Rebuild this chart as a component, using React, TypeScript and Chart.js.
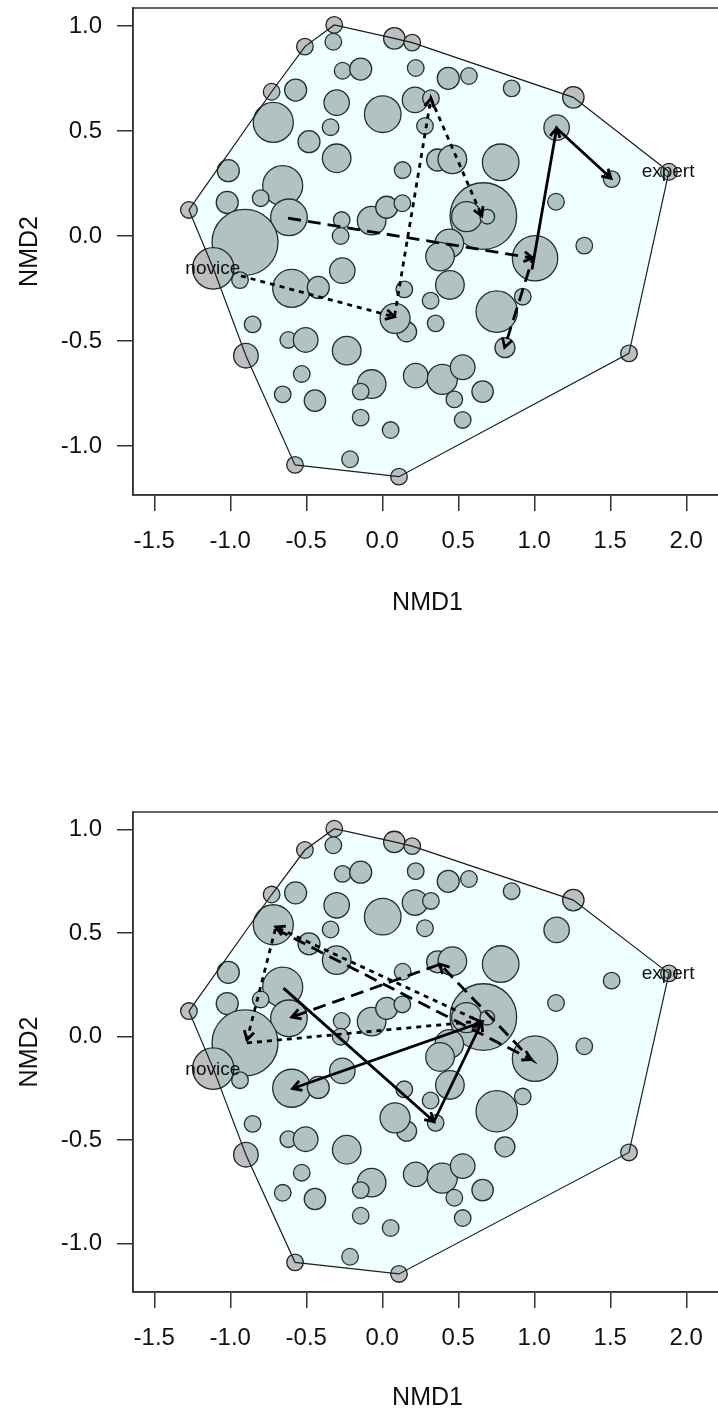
import React, { useEffect, useRef } from 'react';
import { Chart, registerables } from 'chart.js';
Chart.register(...registerables);

const FONT = "'Liberation Sans', Arial, Helvetica, sans-serif";

// axes
const xTicks = [-1.5, -1.0, -0.5, 0.0, 0.5, 1.0, 1.5, 2.0];
const yTicks = [-1.0, -0.5, 0.0, 0.5, 1.0];
const xMin = -1.64;
const xMax = 2.235;
const yMin = -1.2333;
const yMax = 1.0857;
const xTitle = 'NMD1';
const yTitle = 'NMD2';

// NMDS sites (same configuration in both panels); r = symbol radius
const bubbleX = [
  -0.316, -0.322, -0.509, 0.079, 0.197, -0.261, -0.142, 0.22, -0.728, -0.57,
  -0.3, 0.003, 0.215, -0.34, -0.717, -0.482, -0.3, -1.013, 0.134, -0.655,
  -1.02, -0.8, -0.614, -1.272, -0.903, -0.267, -0.274, -0.07, 0.029, 0.132,
  0.434, 0.57, 0.851, 1.257, 0.32, 0.281, 1.147, 0.364, 0.461, 0.779,
  1.509, 1.886, 0.665, 0.555, 0.691, 1.143, 1.329, 0.441, 1.005, 0.38,
  0.445, 0.318, 0.351, 0.16, 0.753, 0.924, 0.807, 1.623, 0.22, 0.395,
  0.529, 0.66, 0.474, 0.529, 0.11, -1.112, -0.936, -0.596, -0.421, -0.263,
  0.145, 0.084, -0.853, -0.618, -0.504, -0.234, -0.897, -0.53, -0.655, -0.443,
  -0.07, -0.142, -0.142, 0.055, -0.212, -0.574,
];
const bubbleY = [
  1.005, 0.925, 0.902, 0.941, 0.921, 0.787, 0.795, 0.8, 0.687, 0.695,
  0.635, 0.58, 0.648, 0.518, 0.541, 0.449, 0.37, 0.311, 0.314, 0.24,
  0.16, 0.18, 0.089, 0.124, -0.03, 0.076, 0.0, 0.073, 0.137, 0.156,
  0.751, 0.762, 0.703, 0.66, 0.656, 0.524, 0.516, 0.362, 0.365, 0.351,
  0.271, 0.306, 0.095, 0.092, 0.092, 0.163, -0.046, -0.035, -0.106, -0.098,
  -0.233, -0.308, -0.416, -0.456, -0.36, -0.289, -0.532, -0.559, -0.665, -0.683,
  -0.625, -0.741, -0.778, -0.876, -1.146, -0.154, -0.21, -0.249, -0.245, -0.165,
  -0.254, -0.392, -0.421, -0.495, -0.495, -0.546, -0.57, -0.657, -0.754, -0.784,
  -0.705, -0.741, -0.865, -0.924, -1.063, -1.09,
];
const bubbleR = [
  8.3, 8.3, 8.3, 10.7, 8.3, 8.3, 11, 8.3, 8.3, 11,
  12.7, 18.3, 12.7, 8.3, 20, 11, 14.3, 11, 8.3, 20,
  11, 8.3, 18.3, 8.3, 33, 8.3, 8.3, 14.3, 11, 8.3,
  11, 8.3, 8.3, 10.7, 8.3, 8.3, 12.7, 11, 14.3, 18.3,
  8.3, 8.3, 33.3, 15, 7.3, 8.3, 8.3, 14.3, 22.7, 14.3,
  14.3, 8.3, 8.3, 10, 20.7, 8.3, 10, 8.3, 12.3, 15,
  12.3, 10.7, 8.3, 8.3, 8.3, 20.7, 8.3, 19, 11, 12.7,
  8.3, 15, 8.3, 8.3, 12.3, 14.3, 12.3, 8.3, 8.3, 10.7,
  14.3, 8.3, 8.3, 8.3, 8.3, 8.3,
];

// convex hull, upper and lower chains (left to right)
const hullUpperX = [-1.272, -0.728, -0.509, -0.316, 0.079, 0.197, 1.257, 1.886];
const hullUpperY = [0.124, 0.687, 0.902, 1.005, 0.941, 0.921, 0.66, 0.306];
const hullLowerX = [-1.272, -1.112, -0.897, -0.574, 0.11, 1.623, 1.886];
const hullLowerY = [0.124, -0.154, -0.57, -1.09, -1.146, -0.559, 0.306];

// labels
const labelText = ['novice', 'expert'];
const labelX = [-1.115, 1.88];
const labelY = [-0.158, 0.306];

// top panel trajectories
const topDottedX = [-0.93, 0.08, 0.32, 0.655];
const topDottedY = [-0.19, -0.385, 0.655, 0.095];
const topDashedX = [-0.62, 0.99, 0.805];
const topDashedY = [0.085, -0.105, -0.53];
const topSolidX = [0.985, 1.147, 1.505];
const topSolidY = [-0.16, 0.513, 0.275];

// bottom panel trajectories
const botSolidX = [-0.65, 0.34, 0.655, -0.59];
const botSolidY = [0.235, -0.41, 0.07, -0.25];
const botDottedX = [-0.89, 0.64, -0.7, -0.89];
const botDottedY = [-0.03, 0.075, 0.53, -0.015];
const botDashedX = [-0.7, 0.98, 0.38, -0.595];
const botDashedY = [0.52, -0.11, 0.35, 0.095];

const DOT = [5, 5];
const DASH = [13, 7];
const SOLID: number[] = [];

type Path = { xs: number[]; ys: number[]; dash: number[] };

const topPaths: Path[] = [
  { xs: topDottedX, ys: topDottedY, dash: DOT },
  { xs: topDashedX, ys: topDashedY, dash: DASH },
  { xs: topSolidX, ys: topSolidY, dash: SOLID },
];
const botPaths: Path[] = [
  { xs: botSolidX, ys: botSolidY, dash: SOLID },
  { xs: botDottedX, ys: botDottedY, dash: DOT },
  { xs: botDashedX, ys: botDashedY, dash: DASH },
];

const pts = (xs: number[], ys: number[]) => xs.map((x, i) => ({ x, y: ys[i] }));

function Panel(props: { top: number; axisH: number; titlePad: number; paths: Path[] }) {
  const ref = useRef<HTMLCanvasElement>(null);
  useEffect(() => {
    const canvas = ref.current;
    if (!canvas) return;
    const paths = props.paths;

    const boxPlugin = {
      id: 'box',
      afterDatasetsDraw(chart: any) {
        const { ctx, chartArea: a } = chart;
        ctx.save();
        ctx.strokeStyle = '#333';
        ctx.lineWidth = 1.5;
        ctx.setLineDash([]);
        ctx.strokeRect(a.left, a.top, a.right - a.left, a.bottom - a.top);
        ctx.restore();
      },
    };
    const headPlugin = {
      id: 'heads',
      afterDatasetsDraw(chart: any) {
        const ctx = chart.ctx;
        const sx = chart.scales.x;
        const sy = chart.scales.y;
        ctx.save();
        ctx.strokeStyle = '#000';
        ctx.lineWidth = 2.8;
        ctx.setLineDash([]);
        ctx.lineJoin = 'miter';
        for (const p of paths) {
          for (let i = 1; i < p.xs.length; i++) {
            const x0 = sx.getPixelForValue(p.xs[i - 1]);
            const y0 = sy.getPixelForValue(p.ys[i - 1]);
            const x1 = sx.getPixelForValue(p.xs[i]);
            const y1 = sy.getPixelForValue(p.ys[i]);
            const ang = Math.atan2(y1 - y0, x1 - x0);
            const L = 10;
            const phi = Math.PI / 6;
            ctx.beginPath();
            ctx.moveTo(x1 - L * Math.cos(ang - phi), y1 - L * Math.sin(ang - phi));
            ctx.lineTo(x1, y1);
            ctx.lineTo(x1 - L * Math.cos(ang + phi), y1 - L * Math.sin(ang + phi));
            ctx.stroke();
          }
        }
        ctx.restore();
      },
    };
    const labelPlugin = {
      id: 'labels',
      afterDatasetsDraw(chart: any) {
        const ctx = chart.ctx;
        ctx.save();
        ctx.fillStyle = '#111';
        ctx.font = `19px ${FONT}`;
        ctx.textAlign = 'center';
        ctx.textBaseline = 'middle';
        labelText.forEach((t, i) => {
          ctx.fillText(t, chart.scales.x.getPixelForValue(labelX[i]), chart.scales.y.getPixelForValue(labelY[i]));
        });
        ctx.restore();
      },
    };

    const datasets: any[] = [
      {
        type: 'bubble',
        data: bubbleX.map((x, i) => ({ x, y: bubbleY[i], r: bubbleR[i] })),
        backgroundColor: '#bebebe',
        borderColor: '#222',
        borderWidth: 1.3,
        order: 3,
      },
      {
        type: 'line',
        data: pts(hullUpperX, hullUpperY),
        borderColor: '#1a1a1a',
        borderWidth: 1.2,
        pointRadius: 0,
        tension: 0,
        fill: '+1',
        backgroundColor: 'rgba(0,255,255,0.06)',
        order: 2,
      },
      {
        type: 'line',
        data: pts(hullLowerX, hullLowerY),
        borderColor: '#1a1a1a',
        borderWidth: 1.2,
        pointRadius: 0,
        tension: 0,
        fill: false,
        order: 2,
      },
      ...paths.map((p) => ({
        type: 'line',
        data: pts(p.xs, p.ys),
        borderColor: '#000',
        borderWidth: 2.8,
        borderDash: p.dash,
        borderCapStyle: 'butt',
        pointRadius: 0,
        tension: 0,
        fill: false,
        order: 1,
      })),
    ];

    const tickFont = { family: FONT, size: 24 };
    const titleFont = { family: FONT, size: 25 };
    const chart = new Chart(canvas, {
      type: 'bubble',
      data: { datasets },
      options: {
        responsive: false,
        animation: false,
        events: [],
        devicePixelRatio: 1,
        layout: { autoPadding: false, padding: { top: 8, left: 0, right: 0, bottom: 0 } },
        plugins: { legend: { display: false }, tooltip: { enabled: false } },
        scales: {
          x: {
            type: 'linear',
            min: xMin,
            max: xMax,
            afterBuildTicks: (s: any) => {
              s.ticks = xTicks.map((v) => ({ value: v }));
            },
            afterFit: (s: any) => {
              s.height = props.axisH;
              s.paddingLeft = 0;
              s.paddingRight = 0;
              s.paddingTop = 0;
              s.paddingBottom = 0;
            },
            ticks: {
              font: tickFont,
              color: '#111',
              padding: 16,
              maxRotation: 0,
              autoSkip: false,
              callback: (v: any) => Number(v).toFixed(1),
            },
            grid: { drawOnChartArea: false, drawTicks: true, tickLength: 16, color: '#333', lineWidth: 1.5 },
            border: { display: true, color: '#333', width: 1.5 },
            title: { display: true, text: xTitle, font: titleFont, color: '#111', padding: { top: 0, bottom: props.titlePad } },
          },
          y: {
            type: 'linear',
            min: yMin,
            max: yMax,
            afterBuildTicks: (s: any) => {
              s.ticks = yTicks.map((v) => ({ value: v }));
            },
            afterFit: (s: any) => {
              s.width = 133;
              s.paddingLeft = 0;
              s.paddingRight = 0;
              s.paddingTop = 0;
              s.paddingBottom = 0;
            },
            ticks: {
              font: tickFont,
              color: '#111',
              padding: 15,
              autoSkip: false,
              callback: (v: any) => Number(v).toFixed(1),
            },
            grid: { drawOnChartArea: false, drawTicks: true, tickLength: 16, color: '#333', lineWidth: 1.5 },
            border: { display: true, color: '#333', width: 1.5 },
            title: { display: true, text: yTitle, font: titleFont, color: '#111', padding: { top: 15, bottom: 0 } },
          },
        },
      } as any,
      plugins: [boxPlugin, headPlugin, labelPlugin],
    });
    return () => chart.destroy();
  }, []);
  return (
    <canvas
      ref={ref}
      width={722}
      height={640}
      style={{ position: 'absolute', left: 0, top: props.top, width: 722, height: 640, display: 'block' }}
    />
  );
}

export default function App() {
  return (
    <div
      style={{
        position: 'absolute',
        left: 0,
        top: 0,
        width: 718,
        height: 1412,
        overflow: 'hidden',
        background: '#fff',
      }}
    >
      <Panel top={0} axisH={145} titlePad={22} paths={topPaths} />
      <Panel top={804} axisH={152} titlePad={31} paths={botPaths} />
    </div>
  );
}
